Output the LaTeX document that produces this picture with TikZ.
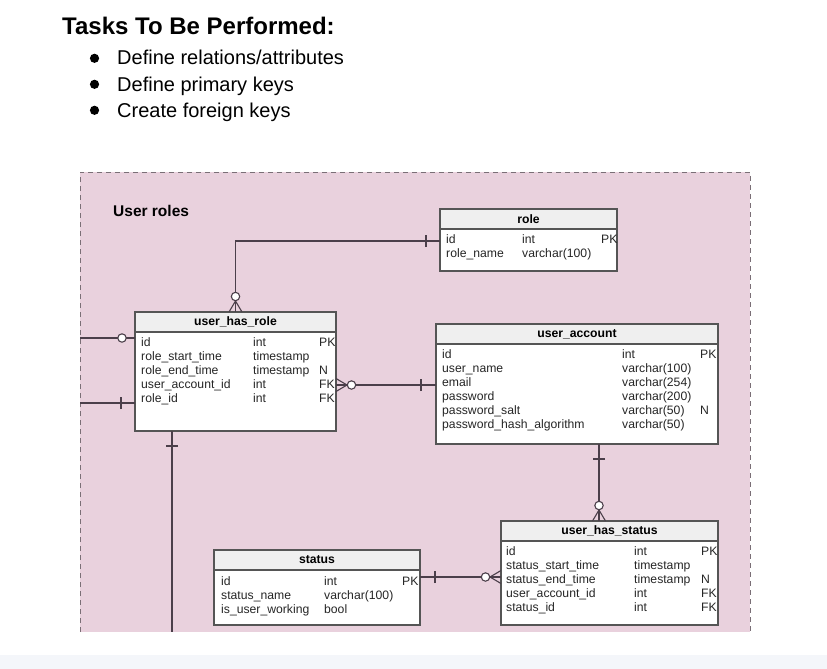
\documentclass[tikz,border=0pt]{standalone}
\usepackage{fontspec}
\setmainfont{Liberation Sans}
\usepackage{tikz}
\usetikzlibrary{calc,positioning}

\definecolor{roleszone}{HTML}{E9D1DD}
\definecolor{zoneedge}{HTML}{7A6F76}
\definecolor{headgray}{HTML}{EFEFEF}
\definecolor{tabedge}{HTML}{555555}
\definecolor{linkline}{HTML}{4B3F4A}
\definecolor{bandgray}{HTML}{F4F6FA}

\newcommand{\tblfont}{\fontsize{12.2}{14}\selectfont}

\tikzstyle{tblhead} = [rectangle, draw=tabedge, line width=1.2pt, fill=headgray, anchor=north west,
                       inner sep=0pt, outer sep=0pt, minimum height=20pt, font=\tblfont\bfseries]
\tikzstyle{tblbody} = [rectangle, draw=tabedge, line width=1.2pt, fill=white, inner sep=0pt, outer sep=0pt]
\tikzstyle{tblrows} = [anchor=base west, inner sep=0pt, font=\tblfont, text=black!85]
\tikzstyle{rel}     = [draw=linkline, line width=1.1pt]
\tikzstyle{zonedash} = [draw=zoneedge, line width=1pt, dash pattern=on 5pt off 4pt]
\tikzset{
  pics/onebar/.style={code={\draw[rel] (0,-6) -- (0,6);}},
  pics/zmany/.style={code={
    \draw[rel] (0,-6.5) -- (11,0) -- (0,6.5);
    \draw[rel, fill=white] (15.5,0) circle (4.2pt);}},
  pics/zone/.style={code={\draw[rel, fill=white] (13,0) circle (4.2pt);}}
}

\begin{document}
\begin{tikzpicture}[x=1pt, y=1pt, node distance=0pt]
  \fill[white] (0,0) rectangle (827,-669);
  \useasboundingbox (0,0) rectangle (827,-669);
  \fill[bandgray] (0,-655) rectangle (827,-669);

  \node[anchor=base west, inner sep=0pt, font=\fontsize{24}{28}\selectfont\bfseries] (title) at (62,-35) {Tasks To Be Performed:};
  \foreach \txt [count=\i] in {Define relations/attributes, Define primary keys, Create foreign keys} {
    \node[anchor=base west, inner sep=0pt, font=\fontsize{20}{24}\selectfont] (task\i) at (117,{-65-26*(\i-1)}) {\txt};
    \fill ([xshift=-22.5pt,yshift=6.7pt]task\i.base west) circle (4.6pt);
  }

  \coordinate (zone-nw) at (80,-172);
  \coordinate (zone-se) at (750,-632);
  \fill[roleszone] (zone-nw) rectangle (zone-se);
  \draw[zonedash] (zone-nw |- zone-se) -- (zone-nw) -- (zone-se |- zone-nw) -- (zone-se);
  \node[anchor=base west, inner sep=0pt, font=\fontsize{15.5}{18}\selectfont\bfseries] (zone-label) at (113,-216) {User roles};

  \node[tblhead, minimum width=177pt] (role-hd) at (440,-209) {role};
  \node[tblbody, minimum width=177pt, minimum height=42pt, below=of role-hd] (role) {};
  \node[tblrows] (role-rows) at ([xshift=6pt,yshift=-14pt]role.north west)
    {\begin{tabular}[t]{@{}p{76pt}@{}p{79pt}@{}l@{}}
      id & int & PK\\
      role\_name & varchar(100) &
    \end{tabular}};

  \node[tblhead, minimum width=201pt] (uhr-hd) at (135,-312) {user\_has\_role};
  \node[tblbody, minimum width=201pt, minimum height=99pt, below=of uhr-hd] (uhr) {};
  \node[tblrows] (uhr-rows) at ([xshift=6pt,yshift=-14pt]uhr.north west)
    {\begin{tabular}[t]{@{}p{112pt}@{}p{66pt}@{}l@{}}
      id & int & PK\\
      role\_start\_time & timestamp & \\
      role\_end\_time & timestamp & N\\
      user\_account\_id & int & FK\\
      role\_id & int & FK
    \end{tabular}};

  \node[tblhead, minimum width=282pt] (ua-hd) at (436,-324) {user\_account};
  \node[tblbody, minimum width=282pt, minimum height=100pt, below=of ua-hd] (ua) {};
  \node[tblrows] (ua-rows) at ([xshift=6pt,yshift=-14pt]ua.north west)
    {\begin{tabular}[t]{@{}p{180pt}@{}p{78pt}@{}l@{}}
      id & int & PK\\
      user\_name & varchar(100) & \\
      email & varchar(254) & \\
      password & varchar(200) & \\
      password\_salt & varchar(50) & N\\
      password\_hash\_algorithm & varchar(50) &
    \end{tabular}};

  \node[tblhead, minimum width=217pt] (uhs-hd) at (501,-521) {user\_has\_status};
  \node[tblbody, minimum width=217pt, minimum height=84pt, below=of uhs-hd] (uhs) {};
  \node[tblrows] (uhs-rows) at ([xshift=5pt,yshift=-14pt]uhs.north west)
    {\begin{tabular}[t]{@{}p{128pt}@{}p{67pt}@{}l@{}}
      id & int & PK\\
      status\_start\_time & timestamp & \\
      status\_end\_time & timestamp & N\\
      user\_account\_id & int & FK\\
      status\_id & int & FK
    \end{tabular}};

  \node[tblhead, minimum width=206pt] (st-hd) at (214,-550) {status};
  \node[tblbody, minimum width=206pt, minimum height=55pt, below=of st-hd] (st) {};
  \node[tblrows] (st-rows) at ([xshift=7pt,yshift=-15pt]st.north west)
    {\begin{tabular}[t]{@{}p{103pt}@{}p{78pt}@{}l@{}}
      id & int & PK\\
      status\_name & varchar(100) & \\
      is\_user\_working & bool &
    \end{tabular}};

  \coordinate (role-id) at ([yshift=-12pt]role.north west);
  \coordinate (uhr-fk) at ([yshift=-53pt]uhr.north east);
  \coordinate (uhs-top) at ([xshift=98pt]uhs-hd.north west);
  \coordinate (st-pk) at ([yshift=-7pt]st.north east);
  \coordinate (uhr-a) at ([yshift=-6pt]uhr-hd.south west);
  \coordinate (uhr-b) at ([yshift=-71pt]uhr-hd.south west);
  \coordinate (uhr-c) at ([xshift=37pt]uhr.south west);

  \draw[rel] (role-id) -| (uhr-hd.north);
  \draw[rel] (uhr-fk) -- (uhr-fk -| ua.west);
  \draw[rel] (uhs-top |- ua.south) -- (uhs-top);
  \draw[rel] (st-pk) -- (st-pk -| uhs.west);
  \draw[rel] (uhr-a -| zone-nw) -- (uhr-a);
  \draw[rel] (uhr-b -| zone-nw) -- (uhr-b);
  \draw[rel] (uhr-c) -- (uhr-c |- zone-se);

  \pic at ([xshift=-14pt]role-id) {onebar};
  \pic[rotate=90] at (uhr-hd.north) {zmany};
  \pic at (uhr-fk) {zmany};
  \pic at ($(uhr-fk -| ua.west)+(-15,0)$) {onebar};
  \pic[rotate=90] at ($(uhs-top |- ua.south)+(0,-15)$) {onebar};
  \pic[rotate=90] at (uhs-top) {zmany};
  \pic at ($(st-pk)+(15,0)$) {onebar};
  \pic[rotate=180] at (st-pk -| uhs.west) {zmany};
  \pic[rotate=180] at (uhr-a) {zone};
  \pic at ($(uhr-b)+(-14,0)$) {onebar};
  \pic[rotate=90] at ($(uhr-c)+(0,-15)$) {onebar};
\end{tikzpicture}
\end{document}
